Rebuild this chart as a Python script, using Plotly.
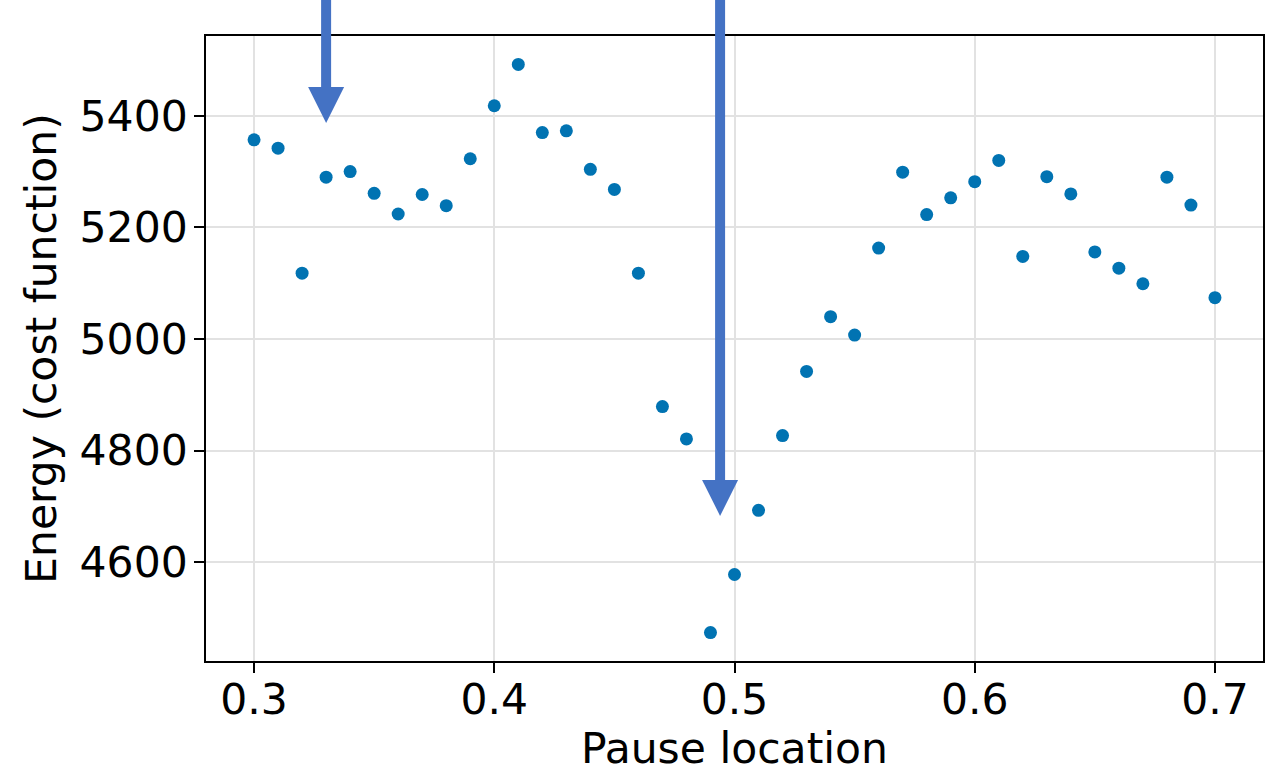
import plotly.graph_objects as go

pause_location = [0.30, 0.31, 0.32, 0.33, 0.34, 0.35, 0.36, 0.37, 0.38, 0.39,
                  0.40, 0.41, 0.42, 0.43, 0.44, 0.45, 0.46, 0.47, 0.48, 0.49,
                  0.50, 0.51, 0.52, 0.53, 0.54, 0.55, 0.56, 0.57, 0.58, 0.59,
                  0.60, 0.61, 0.62, 0.63, 0.64, 0.65, 0.66, 0.67, 0.68, 0.69, 0.70]
energy = [5357, 5342, 5118, 5290, 5300, 5261, 5224, 5259, 5239, 5323,
          5418, 5492, 5370, 5373, 5304, 5268, 5118, 4879, 4821, 4474,
          4578, 4693, 4827, 4942, 5040, 5007, 5163, 5299, 5223, 5253,
          5282, 5320, 5148, 5291, 5260, 5156, 5127, 5099, 5290, 5240, 5074]

arrow_x = [0.330, 0.494]
arrow_tip = [5387, 4683]

x_ticks = [0.3, 0.4, 0.5, 0.6, 0.7]
y_ticks = [4600, 4800, 5000, 5200, 5400]

x_range = [0.28, 0.72]
y_range = [4423, 5543]

FONT = "DejaVu Sans"
FS = 42.5
ARROW_COLOR = "#4472C4"

fig = go.Figure()
fig.add_trace(go.Scatter(
    x=pause_location, y=energy, mode="markers",
    marker=dict(color="#0173B2", size=13, line=dict(width=0)),
    showlegend=False, cliponaxis=False,
))

shapes = []
for ax, tip in zip(arrow_x, arrow_tip):
    tip_paper = (tip - y_range[0]) / (y_range[1] - y_range[0])
    # arrow head (triangle), pixel-sized around the tip
    shapes.append(dict(
        type="path", xref="x", yref="paper",
        xsizemode="pixel", ysizemode="pixel",
        xanchor=ax, yanchor=tip_paper,
        path="M -18 36 L 18 36 L 0 0 Z",
        fillcolor=ARROW_COLOR, line=dict(width=0), layer="above",
    ))
    # arrow shaft extending above the plot
    shapes.append(dict(
        type="rect", xref="x", yref="paper",
        xsizemode="pixel", ysizemode="pixel",
        xanchor=ax, yanchor=tip_paper,
        x0=-5, x1=5, y0=35, y1=600,
        fillcolor=ARROW_COLOR, line=dict(width=0), layer="above",
    ))

fig.update_layout(
    width=1268, height=776,
    margin=dict(l=206, r=5, t=36, b=115, autoexpand=False),
    plot_bgcolor="white", paper_bgcolor="white",
    font=dict(family=FONT, size=FS, color="black"),
    shapes=shapes,
    xaxis=dict(
        range=x_range, tickvals=x_ticks, ticktext=[f"{v:.1f}" for v in x_ticks],
        showline=True, linecolor="black", linewidth=1.5, mirror=True,
        ticks="outside", ticklen=10, tickwidth=1.5, tickcolor="black",
        showgrid=True, gridcolor="#e2e2e2", gridwidth=1.5, zeroline=False,
        title=dict(text="Pause location", font=dict(size=FS), standoff=0),
        tickfont=dict(size=FS), ticklabelstandoff=-10, automargin=False,
    ),
    yaxis=dict(
        range=y_range, tickvals=y_ticks,
        showline=True, linecolor="black", linewidth=1.5, mirror=True,
        ticks="outside", ticklen=10, tickwidth=1.5, tickcolor="black",
        showgrid=True, gridcolor="#e2e2e2", gridwidth=1.5, zeroline=False,
        title=dict(text="Energy (cost function)", font=dict(size=FS), standoff=10),
        tickfont=dict(size=FS), ticklabelstandoff=-2, automargin=False,
    ),
)

fig.write_html("out.html", config={"displayModeBar": False},
               post_script="document.body.style.margin='0';")
